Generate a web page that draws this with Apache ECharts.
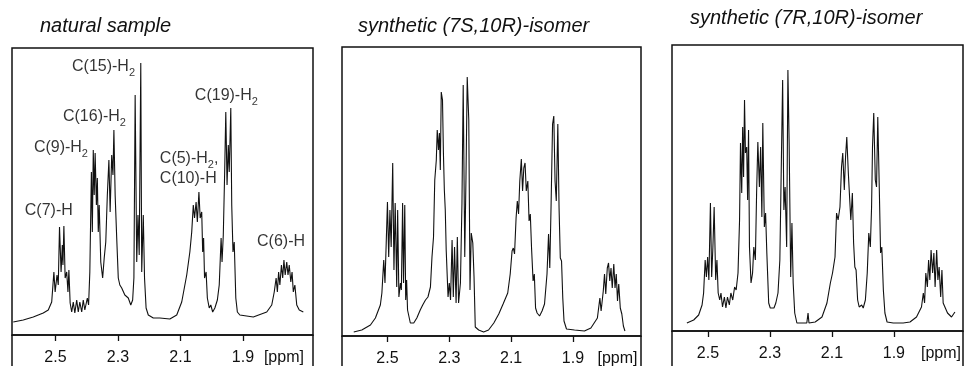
<!DOCTYPE html>
<html><head><meta charset="utf-8">
<script src="https://cdn.jsdelivr.net/npm/echarts@6/dist/echarts.min.js"></script>
<style>html,body{margin:0;padding:0;background:#fff}#c{width:964px;height:366px}</style>
</head><body><div id="c"></div>
<script>
// ---- data ----
const tickValues = [2.5, 2.3, 2.1, 1.9];
const unitLabel = '[ppm]';
const panelTitles = ['natural sample', 'synthetic (7S,10R)-isomer', 'synthetic (7R,10R)-isomer'];

const naturalPpm = [2.635,2.603,2.571,2.539,2.523,2.512,2.505,2.501,2.495,2.491,2.487,2.482,2.478,2.476,2.473,2.469,2.464,2.460,2.457,2.453,2.448,2.443,2.438,2.432,2.427,2.422,2.416,2.411,2.406,2.398,2.394,2.390,2.385,2.382,2.379,2.376,2.373,2.369,2.366,2.363,2.360,2.355,2.349,2.344,2.339,2.334,2.329,2.325,2.320,2.316,2.313,2.309,2.304,2.299,2.294,2.288,2.278,2.267,2.259,2.253,2.249,2.245,2.240,2.236,2.232,2.227,2.224,2.219,2.215,2.210,2.203,2.187,2.166,2.134,2.112,2.096,2.080,2.070,2.064,2.059,2.055,2.050,2.046,2.041,2.037,2.032,2.029,2.026,2.023,2.018,2.014,2.008,2.003,1.997,1.990,1.982,1.976,1.970,1.967,1.963,1.959,1.955,1.951,1.947,1.944,1.939,1.936,1.932,1.928,1.923,1.918,1.910,1.867,1.824,1.808,1.800,1.794,1.790,1.786,1.782,1.777,1.773,1.769,1.765,1.760,1.756,1.752,1.747,1.743,1.739,1.734,1.728,1.720,1.707];
const naturalIntensity = [13,15,18,22,25,33,63,43,60,50,108,63,90,70,109,57,63,43,65,32,23,33,22,35,23,33,23,35,25,37,30,63,163,103,185,140,182,130,157,103,130,73,57,77,93,140,175,123,180,160,205,140,97,57,50,47,40,37,30,35,57,240,73,120,80,272,63,120,57,27,20,17,17,16,20,33,60,83,103,130,117,133,113,143,117,123,83,97,57,63,37,27,30,23,27,35,50,97,73,100,157,223,150,190,163,227,130,83,93,37,23,20,18,23,30,43,57,43,63,50,70,57,75,60,73,60,70,53,63,43,50,30,25,23];

const isomer7SPpm = [2.609,2.583,2.555,2.539,2.523,2.518,2.512,2.508,2.504,2.500,2.496,2.492,2.488,2.483,2.479,2.475,2.470,2.467,2.463,2.458,2.455,2.451,2.448,2.444,2.441,2.438,2.435,2.426,2.415,2.405,2.394,2.386,2.377,2.369,2.361,2.356,2.351,2.347,2.342,2.339,2.335,2.332,2.329,2.326,2.322,2.319,2.316,2.313,2.310,2.304,2.300,2.296,2.291,2.287,2.283,2.278,2.274,2.270,2.264,2.259,2.255,2.250,2.246,2.242,2.237,2.233,2.229,2.224,2.220,2.216,2.205,2.189,2.173,2.156,2.140,2.126,2.111,2.103,2.097,2.093,2.089,2.084,2.080,2.076,2.072,2.067,2.063,2.059,2.055,2.051,2.046,2.042,2.038,2.034,2.029,2.025,2.021,2.016,2.008,2.000,1.992,1.984,1.979,1.975,1.971,1.966,1.962,1.958,1.954,1.949,1.945,1.941,1.937,1.933,1.929,1.921,1.895,1.863,1.842,1.821,1.813,1.809,1.802,1.798,1.794,1.789,1.785,1.781,1.777,1.773,1.768,1.764,1.760,1.756,1.752,1.747,1.742,1.737,1.732];
const isomer7SIntensity = [4,6,11,18,31,43,76,53,93,134,79,126,89,173,66,133,49,126,39,53,46,133,53,131,36,56,26,13,13,18,26,31,36,39,49,79,99,156,176,206,186,203,166,244,236,183,146,126,86,39,53,36,96,39,89,33,99,33,53,133,251,79,159,259,216,46,103,93,59,9,6,4,6,13,22,32,43,62,85,88,82,118,135,122,155,177,145,168,173,145,155,115,122,88,55,62,28,23,20,25,32,62,102,68,128,212,220,155,135,212,128,78,75,38,15,7,6,5,8,18,38,25,45,62,42,68,73,55,68,48,72,48,62,35,52,28,22,10,5];

const isomer7RPpm = [2.568,2.546,2.530,2.519,2.514,2.509,2.505,2.501,2.497,2.492,2.488,2.484,2.480,2.475,2.471,2.467,2.462,2.458,2.453,2.447,2.442,2.437,2.431,2.426,2.420,2.414,2.409,2.403,2.398,2.395,2.391,2.388,2.385,2.382,2.379,2.375,2.372,2.369,2.366,2.361,2.356,2.352,2.347,2.343,2.339,2.334,2.330,2.326,2.323,2.318,2.314,2.310,2.304,2.299,2.293,2.287,2.281,2.274,2.268,2.263,2.259,2.255,2.251,2.246,2.242,2.238,2.233,2.229,2.225,2.220,2.213,2.197,2.181,2.177,2.174,2.154,2.132,2.116,2.105,2.098,2.090,2.085,2.080,2.074,2.069,2.065,2.060,2.056,2.052,2.047,2.043,2.039,2.034,2.030,2.026,2.022,2.017,2.012,2.004,1.999,1.992,1.986,1.981,1.976,1.972,1.969,1.965,1.960,1.956,1.952,1.947,1.943,1.939,1.934,1.929,1.922,1.902,1.870,1.848,1.827,1.811,1.805,1.801,1.797,1.792,1.788,1.784,1.780,1.775,1.771,1.767,1.762,1.758,1.754,1.749,1.745,1.741,1.734,1.727,1.714,1.703];
const isomer7RIntensity = [8,11,16,26,38,71,54,74,51,128,54,84,124,51,71,38,31,38,24,34,23,34,26,38,31,44,41,58,111,188,138,204,154,231,178,184,131,201,84,48,58,84,71,138,189,144,184,114,208,104,118,78,28,23,24,23,28,38,71,171,251,121,144,84,261,188,54,108,48,18,8,8,8,18,8,9,14,28,48,58,74,118,111,124,164,178,141,174,194,158,134,111,138,88,64,61,31,24,26,23,31,58,98,84,124,184,218,151,144,214,141,78,84,41,18,9,8,8,9,14,24,38,28,58,44,71,51,81,58,78,44,81,51,64,34,61,28,23,18,14,19];

// peak assignments on the natural sample (ppm, intensity of label anchor)
const annotationText = ['C(15)-H{s|2}', 'C(16)-H{s|2}', 'C(9)-H{s|2}', 'C(7)-H', 'C(19)-H{s|2}', 'C(5)-H{s|2},', 'C(10)-H', 'C(6)-H'];
const annotationPpm = [2.447, 2.476, 2.569, 2.598, 2.054, 2.166, 2.166, 1.855];
const annotationIntensity = [268, 218, 187, 124, 239, 176, 156, 93];

// ---- layout ----
const FONT = 'Liberation Sans, Arial, Helvetica, sans-serif';
const CANVAS_H = 366;
const layouts = [
  {left:12,  width:301, top:48, axisY:335, xMax:2.639, xMin:1.676, unitPos:1.769, titleLeft:40,  titleTop:16},
  {left:342, width:299, top:47, axisY:336, xMax:2.647, xMin:1.680, unitPos:1.756, titleLeft:358, titleTop:16},
  {left:672, width:291, top:45, axisY:331, xMax:2.616, xMin:1.677, unitPos:1.748, titleLeft:690, titleTop:8}
];
const spectra = [
  [naturalPpm, naturalIntensity],
  [isomer7SPpm, isomer7SIntensity],
  [isomer7RPpm, isomer7RIntensity]
];

// the frames continue below the axis line down to the page edge
const frameSides = [];
layouts.forEach(l => {
  [l.left, l.left + l.width].forEach(x => {
    frameSides.push({type: 'line', silent: true,
      shape: {x1: x, y1: l.axisY, x2: x, y2: CANVAS_H + 2},
      style: {stroke: '#111', lineWidth: 1.5}});
  });
});

const chart = echarts.init(document.getElementById('c'), null, {renderer:'canvas'});
const option = {
  animation: false,
  backgroundColor: '#fff',
  title: layouts.map((l, i) => ({
    text: panelTitles[i], left: l.titleLeft, top: l.titleTop, padding: 0,
    textStyle: {fontFamily: FONT, fontSize: 20, fontStyle: 'italic', fontWeight: 'normal', color: '#111'}
  })),
  grid: layouts.map(l => ({
    left: l.left, top: l.top, width: l.width, height: l.axisY - l.top,
    outerBoundsMode: 'none', containLabel: false,
    show: true, borderColor: '#111', borderWidth: 1.5, backgroundColor: 'transparent'
  })),
  xAxis: layouts.map((l, i) => ({
    type: 'value', gridIndex: i, position: 'bottom', inverse: true, min: l.xMin, max: l.xMax,
    axisLine: {show: true, onZero: false, lineStyle: {color: '#111', width: 1.5}},
    axisTick: {show: true, inside: false, length: 6, lineStyle: {color: '#111', width: 1.3}, customValues: tickValues},
    axisLabel: {
      show: true, margin: 15, color: '#111', fontFamily: FONT, fontSize: 16,
      customValues: tickValues.concat([l.unitPos]),
      formatter: v => tickValues.some(t => Math.abs(t - v) < 1e-6) ? v.toFixed(1) : unitLabel
    },
    splitLine: {show: false}
  })),
  yAxis: layouts.map((l, i) => ({
    type: 'value', gridIndex: i, min: 0, max: l.axisY - l.top, show: false, splitLine: {show: false}
  })),
  graphic: frameSides,
  series: spectra.map((s, i) => ({
    type: 'line', xAxisIndex: i, yAxisIndex: i, showSymbol: false, symbol: 'none',
    lineStyle: {color: '#111', width: 1.1}, silent: true,
    data: s[0].map((x, k) => [x, s[1][k]])
  })).concat([{
    type: 'scatter', xAxisIndex: 0, yAxisIndex: 0, symbolSize: 0, silent: true,
    data: annotationPpm.map((x, k) => ({value: [x, annotationIntensity[k]], name: annotationText[k]})),
    label: {
      show: true, position: 'right', distance: 0,
      formatter: p => p.name,
      fontFamily: FONT, fontSize: 16, color: '#000', lineHeight: 22,
      rich: {s: {fontFamily: FONT, fontSize: 11, color: '#000', lineHeight: 11, verticalAlign: 'bottom'}}
    }
  }])
};
chart.setOption(option);
</script>
</body></html>
